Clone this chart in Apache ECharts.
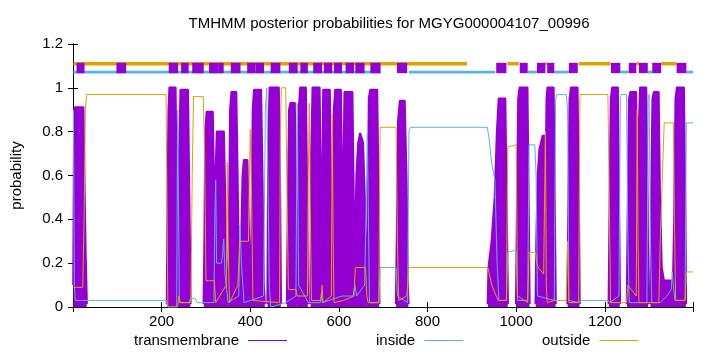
<!DOCTYPE html>
<html><head><meta charset="utf-8">
<script src="https://cdn.jsdelivr.net/npm/echarts@6/dist/echarts.min.js"></script>
<style>html,body{margin:0;padding:0;background:#fff}#c{width:720px;height:352px}</style>
</head><body><div id="c"></div>
<script>
const chartTitle = 'TMHMM posterior probabilities for MGYG000004107_00996';
const seqLength = 1399;
const xTickStep = 200;
const yTickStep = 0.2;
const seriesNames = ['transmembrane', 'inside', 'outside'];

const transmembrane = [
[1,0.1],[3,0.85],[5,0.91],[23,0.91],[26,0.5],[28,0.25],[31,0],[212,0],
[214,0.5],[216,0.9],[218,1.0],[231,1.0],[233,0.6],[235,0.1],[236,0],
[238,0.1],[240,0.7],[243,0.99],[259,0.99],[262,0.5],[265,0],[295,0],
[297,0.3],[299,0.8],[302,0.89],[315,0.89],[318,0.5],[320,0.25],
[322,0.6],[325,0.8],[340,0.8],[343,0.5],[346,0.1],[350,0],
[352,0.3],[355,0.9],[358,0.98],[368,0.98],[371,0.6],[374,0.1],[377,0.05],
[380,0.3],[383,0.6],[386,0.67],[393,0.67],[396,0.4],[399,0.1],[401,0],
[403,0.3],[406,0.9],[409,0.99],[424,0.99],[427,0.6],[430,0.1],[433,0],
[439,0],[441,0.7],[444,1.0],[464,1.0],[467,0.5],[469,0],[483,0],
[485,0.4],[488,0.9],[491,0.93],[500,0.93],[503,0.5],[505,0],
[508,0.2],[510,0.9],[513,1.0],[525,1.0],[528,0.5],[530,0],
[536,0],[538,0.7],[541,1.0],[556,1.0],[559,0.5],[561,0],
[562,0.3],[565,0.99],[579,0.99],[582,0.5],[584,0],
[587,0.3],[589,0.9],[592,0.99],[604,0.99],[607,0.5],[609,0],
[610,0.5],[613,0.98],[630,0.98],[633,0.5],[635,0.05],
[637,0.3],[640,0.6],[644,0.75],[648,0.79],[654,0.75],[658,0.5],[661,0.1],[663,0],
[665,0.3],[668,0.95],[671,0.99],[686,0.99],[689,0.5],[691,0],[729,0],
[731,0.3],[734,0.85],[738,0.94],[748,0.94],[752,0.6],[755,0.1],[757,0],[936,0],
[938,0.18],[945,0.3],[952,0.5],[957,0.8],[961,0.95],[975,0.95],[978,0.5],[981,0],[1000,0],
[1002,0.4],[1005,0.95],[1008,1.0],[1025,1.0],[1028,0.4],[1030,0],[1044,0],
[1046,0.3],[1049,0.6],[1053,0.72],[1060,0.78],[1065,0.78],[1067,0.6],
[1069,0.95],[1071,1.0],[1084,1.0],[1087,0.4],[1089,0],[1116,0],
[1118,0.4],[1121,0.95],[1124,1.0],[1138,1.0],[1141,0.5],[1143,0],[1209,0],
[1211,0.4],[1214,0.95],[1217,1.0],[1229,1.0],[1232,0.4],[1234,0],[1250,0],
[1252,0.4],[1255,0.95],[1258,0.98],[1270,0.98],[1273,0.5],[1275,0.1],
[1277,0.8],[1280,1.0],[1293,1.0],[1296,0.5],[1298,0],[1303,0],
[1305,0.5],[1308,0.95],[1311,0.98],[1321,0.98],[1324,0.5],[1328,0.18],[1333,0.12],[1350,0.12],[1354,0.08],
[1357,0.4],[1360,0.95],[1363,1.0],[1378,1.0],[1381,0.5],[1383,0],[1399,0]
];

const inside = [
[1,0.9],[3,0.1],[5,0.03],[30,0.03],[211,0.03],[213,0.0],[234,0.0],[236,0.9],[238,0.5],[240,0.02],
[262,0.02],[265,0.04],[275,0.04],[280,0.02],[318,0.02],[320,0.4],[322,0.58],[324,0.2],[335,0.2],
[338,0.25],[340,0.31],[343,0.15],[350,0.02],[374,0.05],[377,0.37],[380,0.2],[386,0.02],
[430,0.05],[434,0.9],[437,1.0],[440,1.0],[443,0.1],[446,0.0],[480,0.02],[503,0.05],[506,0.93],
[509,0.1],[531,0.02],[558,0.02],[561,0.07],[563,0.02],[607,0.05],[632,0.05],[636,0.1],[640,0.05],
[658,0.1],[662,0.5],[664,0.79],[666,0.5],[669,0.02],[690,0.02],[693,0.18],[729,0.18],[732,0.05],
[755,0.02],[758,0.8],[761,0.82],[935,0.82],[940,0.75],[945,0.65],[952,0.58],[957,0.2],[961,0.03],
[978,0.03],[981,0.25],[1000,0.26],[1003,0.03],[1026,0.03],[1029,0.74],[1042,0.74],[1045,0.6],
[1048,0.05],[1086,0.03],[1089,0.95],[1092,0.97],[1113,0.97],[1116,0.9],[1119,0.03],[1142,0.02],
[1145,0.03],[1208,0.03],[1211,0.02],[1232,0.05],[1235,0.95],[1237,0.97],[1249,0.97],[1252,0.3],
[1255,0.02],[1295,0.02],[1298,0.95],[1300,0.97],[1303,0.3],[1306,0.02],[1325,0.02],[1340,0.05],
[1350,0.08],[1352,0.16],[1356,0.16],[1358,0.03],[1381,0.03],[1384,0.84],[1399,0.84]
];

const outside = [
[1,0.09],[22,0.09],[25,0.4],[28,0.9],[31,0.97],[210,0.97],[212,0.5],[214,0.0],[236,0.0],[239,0.05],
[242,0.02],[266,0.02],[269,0.6],[272,0.96],[294,0.96],[297,0.7],[300,0.12],[319,0.12],[322,0.02],
[346,0.1],[348,0.66],[350,0.3],[353,0.02],[372,0.1],[376,0.3],[396,0.3],[398,0.6],[400,0.81],
[403,0.5],[406,0.03],[466,0.02],[468,0.8],[470,1.0],[480,1.0],[483,0.5],[486,0.08],[503,0.08],
[506,0.05],[529,0.05],[531,0.6],[533,0.93],[535,0.5],[538,0.03],[560,0.03],[562,0.1],[564,0.02],
[583,0.05],[585,0.88],[587,0.3],[589,0.02],[610,0.03],[634,0.05],[637,0.18],[660,0.18],[663,0.05],
[666,0.02],[690,0.02],[693,0.82],[729,0.82],[732,0.3],[735,0.03],[753,0.05],[756,0.12],[758,0.18],
[936,0.18],[945,0.1],[955,0.05],[960,0.03],[978,0.03],[981,0.73],[1000,0.74],[1003,0.05],
[1026,0.02],[1029,0.25],[1044,0.25],[1046,0.2],[1050,0.18],[1062,0.15],[1066,0.8],[1068,0.1],
[1070,0.02],[1087,0.03],[1113,0.03],[1116,0.3],[1119,0.02],[1141,0.02],[1144,0.97],[1207,0.97],
[1210,0.5],[1213,0.02],[1232,0.02],[1249,0.02],[1252,0.1],[1271,0.05],[1273,0.9],[1275,0.3],
[1277,0.02],[1322,0.02],[1325,0.3],[1330,0.6],[1334,0.84],[1355,0.84],[1357,0.4],[1360,0.03],
[1381,0.03],[1384,0.16],[1399,0.16]
];

// predicted topology band (residue ranges)
const tmBoxes = [[8,26],[98,120],[216,237],[244,261],[269,295],[307,329],[329,340],[356,378],
[393,412],[412,431],[446,468],[487,507],[513,530],[542,562],[566,585],[589,607],[615,634],
[637,658],[671,694],[731,754],[955,978],[1008,1026],[1047,1066],[1070,1086],[1119,1139],
[1214,1235],[1254,1271],[1277,1297],[1307,1327],[1362,1384]];
const outsideTop = [[1,889],[980,1006],[1066,1070],[1141,1213],[1271,1277],[1327,1362]];
const insideTop = [[1,694],[758,953],[1026,1047],[1086,1119],[1235,1254],[1297,1307],[1384,1399]];

const C_TM = '#9400D3', C_IN = '#56B4E9', C_OUT = '#E69F00';
const FONT = 'Liberation Sans, Arial, sans-serif';
const FS = 15;
const LVL_OUT = 1.11, LVL_IN = 1.072, BOX_TOP = 1.114, BOX_BOT = 1.067;
const GRID = {left: 73, right: 27, top: 44, bottom: 45};
const PLOT_BOTTOM = 352 - GRID.bottom;

// stroke of the TM outline fades out at the very bottom so the zero baseline shows no purple strip
const tmStroke = {type: 'linear', x: 0, y: PLOT_BOTTOM - 6, x2: 0, y2: PLOT_BOTTOM, global: true,
  colorStops: [{offset: 0, color: C_TM}, {offset: 0.45, color: C_TM},
               {offset: 0.6, color: 'rgba(148,0,211,0)'}, {offset: 1, color: 'rgba(148,0,211,0)'}]};

function segSeries(data, level, color, width) {
  return {
    type: 'custom', silent: true, z: 3,
    data: data, encode: {x: [0, 1], y: -1},
    renderItem: function (params, api) {
      const a = api.coord([api.value(0), level]);
      const b = api.coord([api.value(1), level]);
      return {type: 'line', shape: {x1: a[0], y1: a[1], x2: b[0], y2: b[1]},
        style: {stroke: color, lineWidth: width}};
    }
  };
}

const chart = echarts.init(document.getElementById('c'), null, {renderer: 'canvas'});
const axisCommon = {
  axisLine: {show: true, lineStyle: {color: '#000', width: 1}},
  axisTick: {show: true, inside: true, length: 5, lineStyle: {color: '#000'}},
  splitLine: {show: false}
};
const legendCommon = {
  top: 333, orient: 'horizontal', align: 'right', icon: 'rect',
  itemWidth: 39, itemHeight: 1.2, padding: 0,
  textStyle: {fontFamily: FONT, fontSize: FS, color: '#000', padding: [0, 4, 0, 0]}
};
chart.setOption({
  animation: false,
  backgroundColor: '#fff',
  title: {text: chartTitle, left: 384, top: 11, textAlign: 'center',
    textStyle: {fontFamily: FONT, fontSize: FS, fontWeight: 'normal', color: '#000'}},
  grid: Object.assign({containLabel: false}, GRID),
  legend: [
    Object.assign({}, legendCommon, {left: 134, data: [{name: seriesNames[0], itemStyle: {color: C_TM}}]}),
    Object.assign({}, legendCommon, {left: 376, data: [{name: seriesNames[1], itemStyle: {color: C_IN}}]}),
    Object.assign({}, legendCommon, {left: 542, data: [{name: seriesNames[2], itemStyle: {color: C_OUT}}]})
  ],
  xAxis: [
    Object.assign({}, axisCommon, {type: 'value', min: 0, max: seqLength, interval: xTickStep, position: 'bottom',
      axisLabel: {margin: 7, fontFamily: FONT, fontSize: FS, color: '#000',
        formatter: v => (v > 0 && v % xTickStep === 0) ? String(v) : ''}}),
    Object.assign({}, axisCommon, {type: 'value', min: 0, max: seqLength, interval: xTickStep, position: 'top',
      axisLabel: {show: false}})
  ],
  yAxis: [
    Object.assign({}, axisCommon, {type: 'value', min: 0, max: 1.2, interval: yTickStep, position: 'left',
      name: 'probability', nameLocation: 'middle', nameGap: 49, nameRotate: 90,
      nameTextStyle: {fontFamily: FONT, fontSize: FS, color: '#000'},
      axisLabel: {margin: 10, fontFamily: FONT, fontSize: FS, color: '#000',
        formatter: v => String(Math.round(v * 10) / 10)}}),
    Object.assign({}, axisCommon, {type: 'value', min: 0, max: 1.2, interval: yTickStep, position: 'right',
      axisLabel: {show: false}})
  ],
  series: [
    {name: seriesNames[0], type: 'line', data: transmembrane, showSymbol: false, z: 2,
      itemStyle: {color: C_TM},
      lineStyle: {width: 2.5, join: 'round', color: tmStroke},
      areaStyle: {color: C_TM, opacity: 1}},
    {name: seriesNames[1], type: 'line', data: inside, showSymbol: false, z: 4,
      lineStyle: {color: C_IN, width: 1}, itemStyle: {color: C_IN}},
    {name: seriesNames[2], type: 'line', data: outside, showSymbol: false, z: 5,
      lineStyle: {color: C_OUT, width: 1}, itemStyle: {color: C_OUT}},
    segSeries(outsideTop, LVL_OUT, C_OUT, 3.5),
    segSeries(insideTop, LVL_IN, C_IN, 2.8),
    {
      type: 'custom', silent: true, z: 6, data: tmBoxes, encode: {x: [0, 1], y: -1},
      renderItem: function (params, api) {
        const a = api.coord([api.value(0), BOX_TOP]);
        const b = api.coord([api.value(1), BOX_BOT]);
        return {type: 'rect', shape: {x: a[0], y: a[1], width: b[0] - a[0], height: b[1] - a[1]},
          style: {fill: C_TM}};
      }
    }
  ]
});
</script></body></html>
